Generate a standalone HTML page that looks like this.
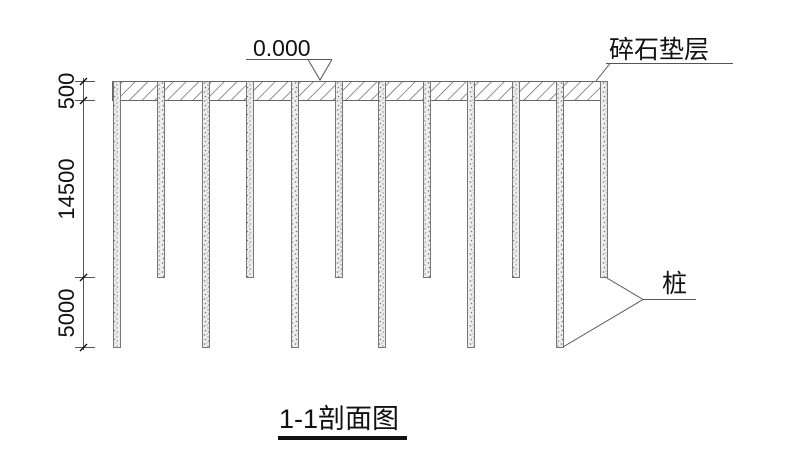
<!DOCTYPE html>
<html><head><meta charset="utf-8"><style>
body{margin:0;background:#fff;width:800px;height:461px;overflow:hidden}
svg{display:block}
text{font-family:"Liberation Sans","Noto Sans CJK SC",sans-serif;fill:#111}
</style></head><body>
<svg width="800" height="461" viewBox="0 0 800 461" xmlns="http://www.w3.org/2000/svg">
<defs>
<pattern id="h" width="9" height="9" patternUnits="userSpaceOnUse" patternTransform="rotate(45)">
<line x1="0" y1="0" x2="0" y2="9" stroke="#555" stroke-width="1.3"/>
</pattern>
<pattern id="s" width="7" height="9" patternUnits="userSpaceOnUse">
<rect width="7" height="9" fill="#eee"/>
<circle cx="1.5" cy="2" r="0.8" fill="#777"/><circle cx="5" cy="4" r="0.7" fill="#888"/>
<circle cx="2.5" cy="6.5" r="0.8" fill="#777"/><circle cx="5.5" cy="8" r="0.7" fill="#888"/>
<circle cx="4" cy="1" r="0.6" fill="#999"/>
</pattern>
</defs>
<g stroke="#666" stroke-width="1">
<rect x="112.5" y="81.5" width="495" height="19" fill="url(#h)"/>
</g>
<g fill="url(#s)" stroke="#777" stroke-width="1">
<rect x="113.5" y="81.5" width="7" height="266"/>
<rect x="202.5" y="81.5" width="7" height="266"/>
<rect x="291.5" y="81.5" width="7" height="266"/>
<rect x="378.5" y="81.5" width="7" height="266"/>
<rect x="467.5" y="81.5" width="7" height="266"/>
<rect x="556.5" y="81.5" width="7" height="266"/>
<rect x="157.5" y="81.5" width="7" height="196"/>
<rect x="246.5" y="81.5" width="7" height="196"/>
<rect x="335.5" y="81.5" width="7" height="196"/>
<rect x="423.5" y="81.5" width="7" height="196"/>
<rect x="512.5" y="81.5" width="7" height="196"/>
<rect x="600.5" y="81.5" width="7" height="196"/>
</g>
<g stroke="#555" stroke-width="1" fill="none">
<line x1="83.5" y1="78" x2="83.5" y2="350"/>
<line x1="75" y1="81.5" x2="95" y2="81.5"/>
<line x1="75" y1="100.5" x2="95" y2="100.5"/>
<line x1="75" y1="277.5" x2="95" y2="277.5"/>
<line x1="75" y1="347.5" x2="95" y2="347.5"/>
<g stroke="#111" stroke-width="1.4">
<line x1="80" y1="85" x2="87" y2="78"/><line x1="80" y1="104" x2="87" y2="97"/>
<line x1="80" y1="281" x2="87" y2="274"/><line x1="80" y1="351" x2="87" y2="344"/>
</g>
<line x1="246" y1="59.5" x2="332" y2="59.5"/>
<polyline points="308,59.5 320,80 332,59.5"/>
<line x1="606" y1="63.5" x2="733" y2="63.5"/>
<line x1="596" y1="81" x2="610" y2="63.5"/>
<line x1="643" y1="299.5" x2="696" y2="299.5"/>
<line x1="607" y1="278" x2="643" y2="299.5"/>
<line x1="563" y1="347" x2="643" y2="299.5"/>
</g>
<text x="253" y="56" font-size="23">0.000</text>
<text x="609" y="58" font-size="25">碎石垫层</text>
<text x="662" y="292" font-size="25">桩</text>
<text transform="translate(74,91) rotate(-90)" font-size="22" text-anchor="middle">500</text>
<text transform="translate(74,189) rotate(-90)" font-size="22" text-anchor="middle">14500</text>
<text transform="translate(74,313) rotate(-90)" font-size="22" text-anchor="middle">5000</text>
<text x="279" y="428" font-size="27">1-1剖面图</text>
<rect x="278" y="436" width="129" height="4" fill="#111"/>
</svg>
</body></html>
